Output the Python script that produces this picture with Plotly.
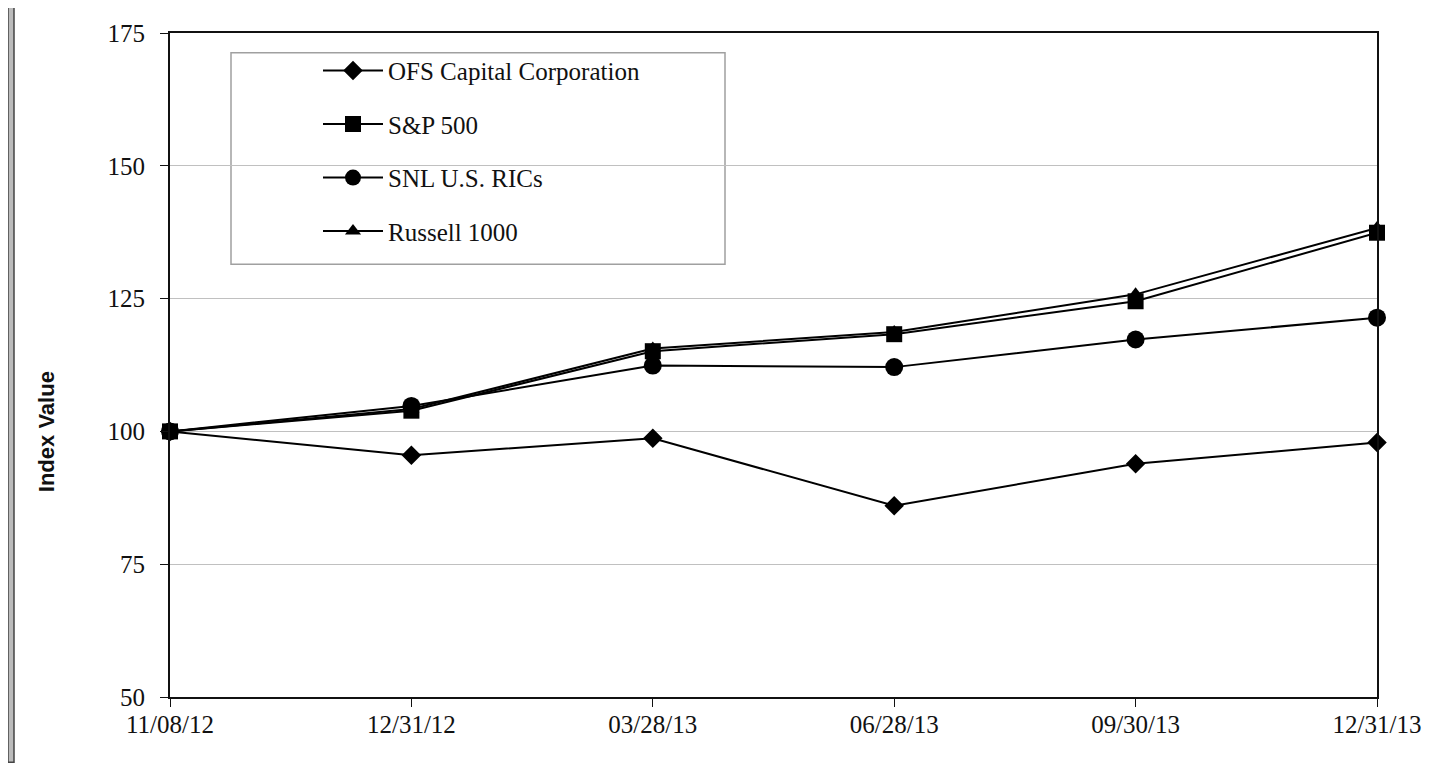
import plotly.graph_objects as go

dates = ["11/08/12", "12/31/12", "03/28/13", "06/28/13", "09/30/13", "12/31/13"]
ofs = [100, 95.5, 98.7, 86.0, 93.9, 97.9]
sp500 = [100, 103.9, 115.1, 118.3, 124.5, 137.4]
snl_rics = [100, 104.8, 112.4, 112.1, 117.3, 121.4]
russell = [100, 104.2, 115.6, 118.7, 125.8, 138.3]
y_ticks = [50, 75, 100, 125, 150, 175]

series = [
    ("OFS Capital Corporation", ofs, "diamond", 15),
    ("S&P 500", sp500, "square", 16),
    ("SNL U.S. RICs", snl_rics, "circle", 18),
    ("Russell 1000", russell, "triangle-up", 14),
]

OFF = 8  # page body margin in browser
W, H = 1448 - OFF, 766 - OFF
L, R, T, B = 170 - OFF, 71, 25 - OFF, 69
pw, ph = W - L - R, H - T - B

def px_x(p):
    return (p - OFF - L) / pw

def px_y(p):
    return (H - B - (p - OFF)) / ph

fig = go.Figure()
xs = list(range(len(dates)))
for i, (name, vals, sym, sz) in enumerate(series):
    fig.add_trace(go.Scatter(
        x=xs, y=vals, name=name, mode="lines+markers",
        line=dict(color="black", width=2),
        marker=dict(symbol=sym, size=sz, color="black"),
        cliponaxis=False, legendgroup=f"g{i}",
    ))

serif = "Liberation Serif, Times New Roman, serif"

fig.update_layout(
    width=W, height=H,
    margin=dict(l=L, r=R, t=T, b=B),
    paper_bgcolor="white", plot_bgcolor="white",
    font=dict(family=serif, size=25, color="#111"),
    showlegend=True,
    legend=dict(
        x=px_x(318), y=px_y(40), xanchor="left", yanchor="top",
        bgcolor="rgba(0,0,0,0)", borderwidth=0,
        tracegroupgap=18, traceorder="grouped",
        font=dict(family=serif, size=25, color="#111"),
        itemwidth=60,
    ),
    xaxis=dict(
        range=[0, len(dates) - 1], tickvals=xs, ticktext=dates,
        showgrid=False, showline=True, linecolor="#111", linewidth=2,
        mirror=True, ticks="outside", ticklen=8, tickcolor="#111",
        ticklabelstandoff=-4,
        tickfont=dict(family=serif, size=25, color="#111"), zeroline=False,
    ),
    yaxis=dict(
        range=[50, 175], tickvals=y_ticks,
        showgrid=True, gridcolor="#c0c0c0", gridwidth=1,
        showline=True, linecolor="#111", linewidth=2, mirror=True,
        ticks="outside", ticklen=8, tickcolor="#111", ticklabelstandoff=10,
        tickfont=dict(family=serif, size=25, color="#111"), zeroline=False,
    ),
)

# legend box
fig.add_shape(type="rect", xref="paper", yref="paper",
              x0=px_x(231), x1=px_x(725), y0=px_y(259), y1=px_y(45),
              line=dict(color="#a0a0a0", width=1.5), fillcolor="white", layer="below")

# left page frame
fig.add_shape(type="rect", xref="paper", yref="paper",
              x0=px_x(8), x1=px_x(14), y0=px_y(763), y1=px_y(-2),
              line=dict(color="#444", width=1.5), fillcolor="#bbbbbb")

fig.add_annotation(
    text="<b>Index Value</b>", textangle=-90, showarrow=False,
    xref="paper", yref="paper", x=px_x(46), y=px_y(429),
    xanchor="center", yanchor="middle",
    font=dict(family="Liberation Sans, Arial, sans-serif", size=22, color="#111"),
)

fig.write_html("out.html")
